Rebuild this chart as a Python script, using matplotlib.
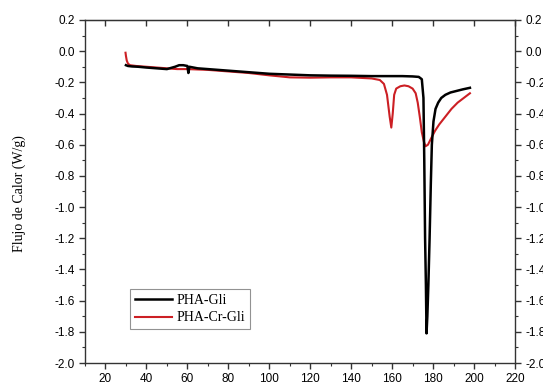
import matplotlib
matplotlib.use("Agg")
import matplotlib.pyplot as plt
from matplotlib.ticker import MultipleLocator

# DSC curves
temp_pha = [30, 31, 33, 36, 40, 45, 50, 54, 56, 58, 60, 60.5, 61, 63, 65, 70, 80, 90, 100,
            110, 120, 130, 140, 150, 160, 165, 170, 173, 174.5, 175.3, 175.7, 176.1, 176.5,
            176.8, 177.2, 177.7, 178.3, 178.9, 179.4, 180.2, 181.2, 182.5, 184, 186, 188.5,
            191.5, 194.5, 198]
flow_pha = [-0.09, -0.095, -0.098, -0.10, -0.105, -0.11, -0.115, -0.10, -0.09, -0.09, -0.095,
            -0.14, -0.10, -0.105, -0.11, -0.115, -0.125, -0.135, -0.145, -0.15, -0.155, -0.157,
            -0.158, -0.16, -0.16, -0.16, -0.162, -0.165, -0.18, -0.30, -0.70, -1.20, -1.50,
            -1.81, -1.70, -1.50, -1.20, -0.85, -0.60, -0.45, -0.37, -0.33, -0.30, -0.28, -0.265,
            -0.255, -0.245, -0.235]

temp_cr = [29.8, 30, 30.4, 31, 32, 35, 40, 45, 50, 55, 60, 70, 80, 90, 100, 110, 120, 130,
           140, 150, 154, 156, 157.5, 158.8, 159.6, 160.3, 161, 162, 164, 166, 168, 170, 171.5,
           172.5, 173.5, 174.5, 175.5, 176.3, 177.5, 179, 181, 183, 186, 189, 192, 195, 198]
flow_cr = [-0.01, -0.03, -0.06, -0.08, -0.09, -0.095, -0.10, -0.105, -0.11, -0.115, -0.115,
           -0.12, -0.13, -0.14, -0.155, -0.168, -0.17, -0.168, -0.168, -0.175, -0.185, -0.21,
           -0.28, -0.42, -0.49, -0.40, -0.28, -0.24, -0.225, -0.22, -0.225, -0.24, -0.27,
           -0.33, -0.42, -0.52, -0.58, -0.61, -0.60, -0.56, -0.51, -0.47, -0.42, -0.37,
           -0.33, -0.30, -0.27]

series_names = ["PHA-Gli", "PHA-Cr-Gli"]

fig = plt.figure(figsize=(5.43, 3.88), dpi=100)
ax = fig.add_axes([0.1565, 0.0644, 0.7919, 0.8841])

ax.plot(temp_pha, flow_pha, color="black", lw=1.8, label=series_names[0], zorder=3)
ax.plot(temp_cr, flow_cr, color="#cc1f24", lw=1.5, label=series_names[1], zorder=2)

ax.set_xlim(10, 220)
ax.set_ylim(-2.0, 0.2)
ax.xaxis.set_minor_locator(MultipleLocator(10))
ax.yaxis.set_minor_locator(MultipleLocator(0.1))
ax.set_xticks([20, 40, 60, 80, 100, 120, 140, 160, 180, 200, 220])
ax.set_yticks([0.2, 0.0, -0.2, -0.4, -0.6, -0.8, -1.0, -1.2, -1.4, -1.6, -1.8, -2.0])

tick_font = "Liberation Sans"
ax.tick_params(which="both", direction="out", top=False, right=True,
               labelright=True, color="#333333")
ax.tick_params(which="major", length=4, width=1, labelsize=8.5)
ax.tick_params(which="minor", length=2, width=0.8)
ax.yaxis.set_major_formatter(plt.FuncFormatter(lambda v, p: f"{v:.1f}".replace("-0.0", "0.0")))
for lab in ax.get_xticklabels() + ax.get_yticklabels() + ax.yaxis.get_ticklabels(which="major"):
    lab.set_fontfamily(tick_font)
for t in ax.yaxis.get_major_ticks():
    t.label2.set_fontfamily(tick_font)

# top axis ticks point inward
top = ax.secondary_xaxis("top")
top.set_xticks([20, 40, 60, 80, 100, 120, 140, 160, 180, 200, 220])
top.tick_params(direction="in", length=4, width=1, labeltop=False, color="#333333")

for s in ax.spines.values():
    s.set_color("#333333")
    s.set_linewidth(1)

fig.text(0.036, 0.5, "Flujo de Calor (W/g)", rotation=90, va="center", ha="center",
         family="Liberation Serif", fontsize=10)

leg = ax.legend(loc="lower left", bbox_to_anchor=(0.088, 0.078), frameon=True,
                fancybox=False, edgecolor="#777777", handlelength=2.7, handletextpad=0.3,
                borderpad=0.35, labelspacing=0.35, prop={"family": "Liberation Serif", "size": 10})
leg.get_frame().set_linewidth(0.8)

fig.savefig("out.png", dpi=100)
